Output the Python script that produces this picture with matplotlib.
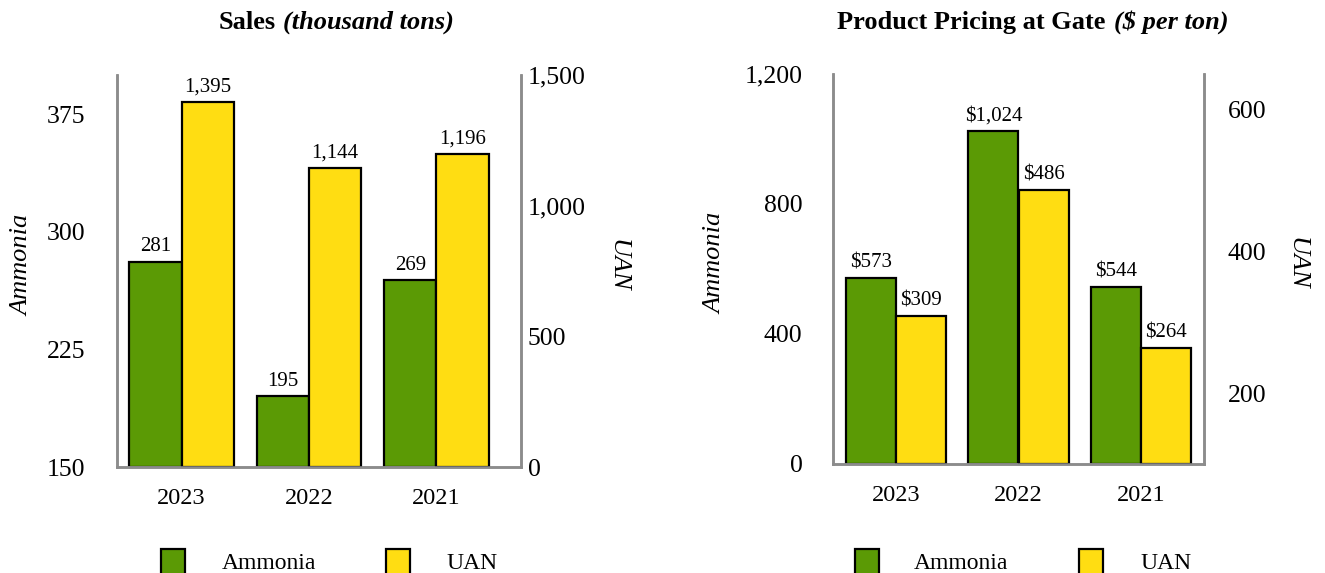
import matplotlib.pyplot as plt
from matplotlib.patches import Rectangle

plt.rcParams['font.family'] = ['Liberation Serif', 'DejaVu Serif']

years = ['2023', '2022', '2021']
sales_ammonia = [281, 195, 269]
sales_uan = [1395, 1144, 1196]
price_ammonia = [573, 1024, 544]
price_uan = [309, 486, 264]

GREEN = '#5B9A05'
YELLOW = '#FFDD12'
SPINE = '#8C8C8C'
W, H = 1325, 573


def px(x0, y0, x1, y1):
    # pixel box (top-left origin) -> figure fraction rect
    return [x0 / W, 1 - y1 / H, (x1 - x0) / W, (y1 - y0) / H]


def panel(rect, amm, uan, ylim1, ticks1, ylim2, ticks2, xlim, fmt,
          lpad, rpad, lab_l, lab_r):
    ax = fig.add_axes(rect)
    ax2 = ax.twinx()
    x = range(len(years))
    w = 0.41
    b1 = ax.bar([i - w / 2 for i in x], [a - ylim1[0] for a in amm], w,
                bottom=ylim1[0], color=GREEN, edgecolor='black', linewidth=1.6)
    b2 = ax2.bar([i + w / 2 for i in x], [u - ylim2[0] for u in uan], w,
                 bottom=ylim2[0], color=YELLOW, edgecolor='black', linewidth=1.6)
    ax.bar_label(b1, labels=[fmt(v) for v in amm], padding=4, fontsize=15)
    ax2.bar_label(b2, labels=[fmt(v) for v in uan], padding=4, fontsize=15)

    ax.set_ylim(*ylim1)
    ax2.set_ylim(*ylim2)
    ax.set_xlim(*xlim)
    ax.set_yticks(ticks1, [f'{t:,}' for t in ticks1])
    ax2.set_yticks(ticks2, [f'{t:,}' for t in ticks2])
    ax.set_xticks(list(x), years)

    ax.tick_params(axis='y', length=0, pad=lpad, labelsize=18.5)
    ax2.tick_params(axis='y', length=0, pad=rpad, labelsize=18.5)
    ax.tick_params(axis='x', length=0, pad=15, labelsize=17.5)

    for a in (ax, ax2):
        a.spines['top'].set_visible(False)
        for s in ('left', 'right', 'bottom'):
            a.spines[s].set_color(SPINE)
            a.spines[s].set_linewidth(1.8)

    ax.text(lab_l, 0.515, 'Ammonia', transform=ax.transAxes, rotation=90,
            ha='center', va='center', fontsize=19, style='italic')
    ax2.text(lab_r, 0.515, 'UAN', transform=ax.transAxes, rotation=270,
             ha='center', va='center', fontsize=19, style='italic')
    return ax


fig = plt.figure(figsize=(13.25, 5.73), dpi=100)

panel(px(117, 75, 521, 467), sales_ammonia, sales_uan,
      (150, 400), [150, 225, 300, 375], (0, 1500), [0, 500, 1000, 1500],
      (-0.506, 2.663), lambda v: f'{v:,}', 23, 5, -0.235, 1.238)

panel(px(833, 74, 1204, 464), price_ammonia, price_uan,
      (0, 1200), [0, 400, 800, 1200], (100, 650), [200, 400, 600],
      (-0.512, 2.512), lambda v: f'${v:,}', 22, 17, -0.318, 1.25)

# titles: bold part + bold italic part
for split, gap, head, unit in [(276, 7, 'Sales', '(thousand tons)'),
                               (1105, 9, 'Product Pricing at Gate', '($ per ton)')]:
    fig.text(split / W, 1 - 29 / H, head, ha='right', va='baseline',
             fontsize=19, fontweight='bold')
    fig.text((split + gap) / W, 1 - 29 / H, unit, ha='left', va='baseline',
             fontsize=19, fontweight='bold', style='italic')

# legends drawn at the bottom, partly cut by the figure edge
legend_items = [(161, GREEN, 222, 'Ammonia'), (386, YELLOW, 446, 'UAN'),
                (855, GREEN, 914, 'Ammonia'), (1079, YELLOW, 1140, 'UAN')]
for x0, col, tx, name in legend_items:
    fig.add_artist(Rectangle((x0 / W, 1 - 575 / H), 24 / W, 26 / H,
                             transform=fig.transFigure, facecolor=col,
                             edgecolor='black', linewidth=1.6))
    fig.text(tx / W, 1 - 569 / H, name, ha='left', va='baseline', fontsize=17)

fig.savefig('out.png', dpi=100)
